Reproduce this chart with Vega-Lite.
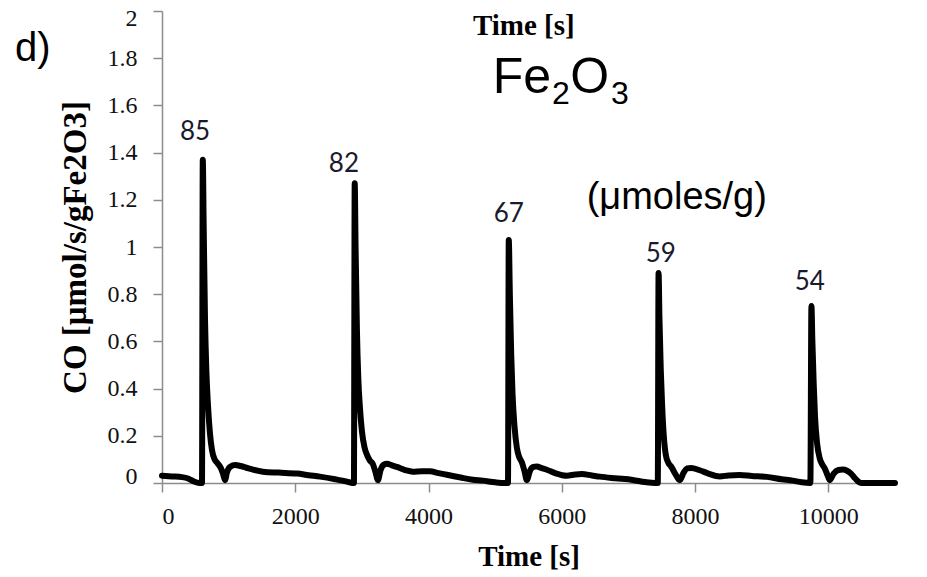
{
  "$schema": "https://vega.github.io/schema/vega-lite/v6.json",
  "width": 733,
  "height": 472,
  "autosize": "none",
  "padding": {"left": 162, "top": 11, "right": 32, "bottom": 94},
  "background": "white",
  "config": {"view": {"stroke": null}},
  "datasets": {
    "curve": [
      {"t": 0, "v": 0.031}, {"t": 150, "v": 0.028}, {"t": 300, "v": 0.025}, {"t": 400, "v": 0.018}, {"t": 480, "v": 0.006}, {"t": 560, "v": 0.0}, {"t": 600, "v": 0.0},
      {"t": 612, "v": 1.37}, {"t": 625, "v": 1.1}, {"t": 645, "v": 0.7}, {"t": 665, "v": 0.48}, {"t": 690, "v": 0.33}, {"t": 720, "v": 0.21}, {"t": 750, "v": 0.14}, {"t": 790, "v": 0.1}, {"t": 830, "v": 0.085}, {"t": 880, "v": 0.065}, {"t": 915, "v": 0.04}, {"t": 945, "v": 0.012}, {"t": 975, "v": 0.045}, {"t": 1020, "v": 0.068}, {"t": 1100, "v": 0.076}, {"t": 1180, "v": 0.072}, {"t": 1300, "v": 0.062}, {"t": 1515, "v": 0.048}, {"t": 1750, "v": 0.044}, {"t": 2025, "v": 0.04}, {"t": 2200, "v": 0.033}, {"t": 2370, "v": 0.027}, {"t": 2600, "v": 0.016}, {"t": 2775, "v": 0.006}, {"t": 2860, "v": 0.0}, {"t": 2880, "v": 0.0},
      {"t": 2892, "v": 1.27}, {"t": 2905, "v": 1.0}, {"t": 2925, "v": 0.65}, {"t": 2945, "v": 0.45}, {"t": 2970, "v": 0.32}, {"t": 3000, "v": 0.22}, {"t": 3040, "v": 0.15}, {"t": 3075, "v": 0.12}, {"t": 3120, "v": 0.095}, {"t": 3165, "v": 0.08}, {"t": 3205, "v": 0.045}, {"t": 3240, "v": 0.012}, {"t": 3280, "v": 0.055}, {"t": 3330, "v": 0.078}, {"t": 3375, "v": 0.082}, {"t": 3450, "v": 0.075}, {"t": 3525, "v": 0.068}, {"t": 3650, "v": 0.055}, {"t": 3765, "v": 0.048}, {"t": 3900, "v": 0.05}, {"t": 4020, "v": 0.05}, {"t": 4150, "v": 0.042}, {"t": 4275, "v": 0.035}, {"t": 4500, "v": 0.022}, {"t": 4665, "v": 0.014}, {"t": 4815, "v": 0.01}, {"t": 5000, "v": 0.003}, {"t": 5150, "v": 0.0}, {"t": 5192, "v": 0.0},
      {"t": 5204, "v": 1.03}, {"t": 5220, "v": 0.8}, {"t": 5240, "v": 0.55}, {"t": 5260, "v": 0.38}, {"t": 5290, "v": 0.24}, {"t": 5325, "v": 0.15}, {"t": 5360, "v": 0.11}, {"t": 5400, "v": 0.088}, {"t": 5440, "v": 0.05}, {"t": 5475, "v": 0.012}, {"t": 5520, "v": 0.05}, {"t": 5570, "v": 0.068}, {"t": 5625, "v": 0.07}, {"t": 5700, "v": 0.063}, {"t": 5775, "v": 0.056}, {"t": 5900, "v": 0.042}, {"t": 6075, "v": 0.031}, {"t": 6200, "v": 0.036}, {"t": 6300, "v": 0.038}, {"t": 6450, "v": 0.032}, {"t": 6570, "v": 0.027}, {"t": 6800, "v": 0.02}, {"t": 7065, "v": 0.013}, {"t": 7250, "v": 0.004}, {"t": 7400, "v": 0.0}, {"t": 7440, "v": 0.0},
      {"t": 7452, "v": 0.89}, {"t": 7465, "v": 0.7}, {"t": 7485, "v": 0.48}, {"t": 7505, "v": 0.33}, {"t": 7530, "v": 0.2}, {"t": 7560, "v": 0.12}, {"t": 7600, "v": 0.085}, {"t": 7640, "v": 0.07}, {"t": 7700, "v": 0.04}, {"t": 7770, "v": 0.012}, {"t": 7830, "v": 0.045}, {"t": 7880, "v": 0.062}, {"t": 7940, "v": 0.064}, {"t": 8070, "v": 0.054}, {"t": 8200, "v": 0.04}, {"t": 8370, "v": 0.028}, {"t": 8500, "v": 0.032}, {"t": 8670, "v": 0.034}, {"t": 8850, "v": 0.03}, {"t": 9075, "v": 0.026}, {"t": 9300, "v": 0.016}, {"t": 9465, "v": 0.01}, {"t": 9600, "v": 0.003}, {"t": 9730, "v": 0.0},
      {"t": 9746, "v": 0.75}, {"t": 9760, "v": 0.6}, {"t": 9780, "v": 0.42}, {"t": 9800, "v": 0.28}, {"t": 9830, "v": 0.17}, {"t": 9870, "v": 0.105}, {"t": 9910, "v": 0.078}, {"t": 9945, "v": 0.062}, {"t": 9985, "v": 0.035}, {"t": 10020, "v": 0.012}, {"t": 10080, "v": 0.04}, {"t": 10150, "v": 0.055}, {"t": 10215, "v": 0.057}, {"t": 10280, "v": 0.052}, {"t": 10340, "v": 0.04}, {"t": 10400, "v": 0.02}, {"t": 10470, "v": 0.002}, {"t": 10500, "v": 0.0}, {"t": 11000, "v": 0.0}
    ],
    "peaks": [
      {"t": 495, "v": 1.455, "label": "85"},
      {"t": 2730, "v": 1.316, "label": "82"},
      {"t": 5205, "v": 1.104, "label": "67"},
      {"t": 7485, "v": 0.938, "label": "59"},
      {"t": 9720, "v": 0.817, "label": "54"}
    ],
    "big": [
      {"t": 5400, "v": 1.654, "label": "Fe"},
      {"t": 6420, "v": 1.654, "label": "O"}
    ],
    "sub": [
      {"t": 5985, "v": 1.608, "label": "2"},
      {"t": 6870, "v": 1.608, "label": "3"}
    ],
    "unit": [
      {"t": 7725, "v": 1.159, "label": "(μmoles/g)"}
    ],
    "panel": [
      {"t": -2205, "v": 1.789, "label": "d)"}
    ],
    "toptitle": [
      {"t": 5430, "v": 1.899, "label": "Time [s]"}
    ]
  },
  "layer": [
    {
      "data": {"name": "curve"},
      "mark": {"type": "line", "color": "#000000", "strokeWidth": 6, "interpolate": "monotone", "strokeJoin": "round", "strokeCap": "round"},
      "encoding": {
        "x": {
          "field": "t", "type": "quantitative",
          "scale": {"domain": [0, 11000], "nice": false, "zero": false},
          "axis": {
            "title": "Time [s]",
            "values": [0, 2000, 4000, 6000, 8000, 10000],
            "format": "d",
            "grid": false,
            "domainColor": "#8c8c8c", "domainWidth": 1.5,
            "tickColor": "#8c8c8c", "tickWidth": 1.5, "tickSize": 9,
            "labelFont": "Liberation Serif", "labelFontSize": 24, "labelColor": "#111111", "labelPadding": 12,
            "titleFont": "Liberation Serif", "titleFontSize": 29, "titleFontWeight": "bold", "titleColor": "#000000",
            "titlePadding": 14
          }
        },
        "y": {
          "field": "v", "type": "quantitative",
          "scale": {"domain": [0, 2], "nice": false},
          "axis": {
            "title": "CO [μmol/s/gFe2O3]",
            "values": [0, 0.2, 0.4, 0.6, 0.8, 1, 1.2, 1.4, 1.6, 1.8, 2],
            "format": "~g",
            "grid": false,
            "domainColor": "#8c8c8c", "domainWidth": 1.5,
            "tickColor": "#8c8c8c", "tickWidth": 1.5, "tickSize": 9,
            "labelFont": "Liberation Serif", "labelFontSize": 24, "labelColor": "#111111", "labelPadding": 16,
            "labelFlush": true, "labelFlushOffset": 5,
            "titleFont": "Liberation Serif", "titleFontSize": 33, "titleFontWeight": "bold", "titleColor": "#000000",
            "titleX": -87, "titleY": 236, "titleAngle": -90, "titleAlign": "center", "titleBaseline": "middle"
          }
        }
      }
    },
    {
      "data": {"name": "peaks"},
      "mark": {"type": "text", "font": "Lato", "fontSize": 26, "color": "#1a1a2e", "align": "center", "baseline": "alphabetic"},
      "encoding": {"x": {"field": "t", "type": "quantitative"}, "y": {"field": "v", "type": "quantitative"}, "text": {"field": "label"}}
    },
    {
      "data": {"name": "big"},
      "mark": {"type": "text", "font": "Liberation Sans", "fontSize": 50, "color": "#000000", "align": "center", "baseline": "alphabetic"},
      "encoding": {"x": {"field": "t", "type": "quantitative"}, "y": {"field": "v", "type": "quantitative"}, "text": {"field": "label"}}
    },
    {
      "data": {"name": "sub"},
      "mark": {"type": "text", "font": "Liberation Sans", "fontSize": 32, "color": "#000000", "align": "center", "baseline": "alphabetic"},
      "encoding": {"x": {"field": "t", "type": "quantitative"}, "y": {"field": "v", "type": "quantitative"}, "text": {"field": "label"}}
    },
    {
      "data": {"name": "unit"},
      "mark": {"type": "text", "font": "Liberation Sans", "fontSize": 38, "color": "#000000", "align": "center", "baseline": "alphabetic"},
      "encoding": {"x": {"field": "t", "type": "quantitative"}, "y": {"field": "v", "type": "quantitative"}, "text": {"field": "label"}}
    },
    {
      "data": {"name": "panel"},
      "mark": {"type": "text", "font": "Liberation Sans", "fontSize": 40, "color": "#000000", "align": "left", "baseline": "alphabetic"},
      "encoding": {"x": {"field": "t", "type": "quantitative"}, "y": {"field": "v", "type": "quantitative"}, "text": {"field": "label"}}
    },
    {
      "data": {"name": "toptitle"},
      "mark": {"type": "text", "font": "Liberation Serif", "fontSize": 29, "fontWeight": "bold", "color": "#000000", "align": "center", "baseline": "alphabetic"},
      "encoding": {"x": {"field": "t", "type": "quantitative"}, "y": {"field": "v", "type": "quantitative"}, "text": {"field": "label"}}
    }
  ]
}
